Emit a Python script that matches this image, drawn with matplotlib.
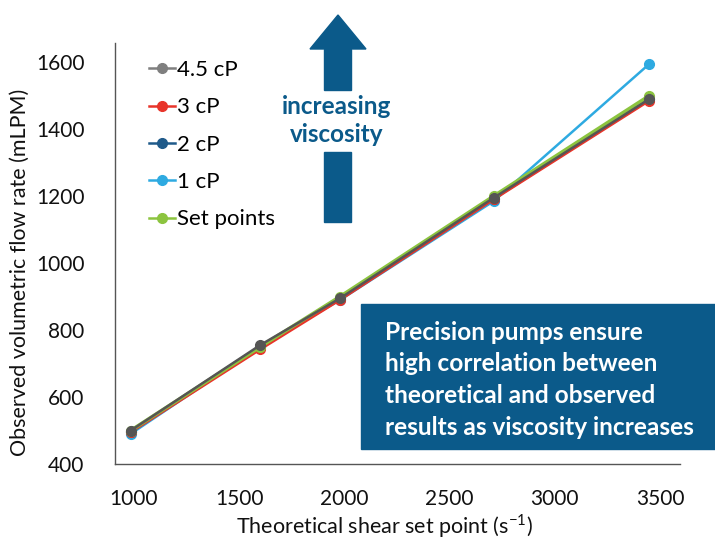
import matplotlib
matplotlib.use("Agg")
import matplotlib.pyplot as plt
from matplotlib.patches import Rectangle, Polygon
from matplotlib.lines import Line2D

plt.rcParams['font.family'] = ['Lato', 'DejaVu Sans']
plt.rcParams['mathtext.fontset'] = 'custom'
plt.rcParams['mathtext.rm'] = 'Lato'

# ---- data ----
shear = [985, 1600, 1980, 2710, 3450]
flow_45 = [500, 755, 895, 1195, 1490]
flow_3 = [495, 742, 890, 1190, 1485]
flow_2 = [495, 750, 892, 1192, 1490]
flow_1 = [490, 750, 890, 1185, 1595]
set_points = [500, 750, 900, 1200, 1500]

labels = ["4.5 cP", "3 cP", "2 cP", "1 cP", "Set points"]
xticks = [1000, 1500, 2000, 2500, 3000, 3500]
yticks = [400, 600, 800, 1000, 1200, 1400, 1600]

fig = plt.figure(figsize=(7.15, 5.44), dpi=100)
ax = fig.add_axes([115/715, 1-464/544, (680-115)/715, (464-43)/544])

c_gray = '#7f7f7f'
c_red = '#e8342a'
c_dblue = '#1f5a8a'
c_lblue = '#2eaae1'
c_green = '#8cc43f'

ax.plot(shear, flow_1, color=c_lblue, lw=1.8, marker='o', ms=7, zorder=2)
ax.plot(shear, flow_2, color=c_dblue, lw=1.8, marker='o', ms=7, zorder=3)
ax.plot(shear, flow_3, color=c_red, lw=1.8, marker='o', ms=7, zorder=3.5)
ax.plot(shear, set_points, color=c_green, lw=2.6, marker='o', ms=7, zorder=4)
ax.plot(shear, flow_45, color='#555555', lw=1.8, marker='o', ms=7, zorder=5)

ax.set_xlim(910, 3595)
ax.set_ylim(400, 1657)
ax.set_xticks(xticks)
ax.set_yticks(yticks)
ax.tick_params(length=0, labelsize=15, colors='#111111')
ax.tick_params(axis='y', pad=22)
ax.tick_params(axis='x', pad=18)
for s in ['top', 'right']:
    ax.spines[s].set_visible(False)
for s in ['left', 'bottom']:
    ax.spines[s].set_color('#555555')
    ax.spines[s].set_linewidth(1.0)

ax.set_xlabel("Theoretical shear set point (s$^{\\mathregular{-1}}$)", fontsize=15.5,
              color='#111111')
ax.xaxis.set_label_coords((385-115)/565, -(526-464)/421)
ax.xaxis.label.set_va('center')
ax.set_ylabel("Observed volumetric flow rate (mLPM)", fontsize=15.5, color='#111111')
ax.yaxis.set_label_coords(-(115-20)/565, (464-272)/421)
ax.yaxis.label.set_va('center')

handles = [Line2D([], [], color=c_gray, lw=1.8, marker='o', ms=7),
           Line2D([], [], color=c_red, lw=1.8, marker='o', ms=7),
           Line2D([], [], color=c_dblue, lw=1.8, marker='o', ms=7),
           Line2D([], [], color=c_lblue, lw=1.8, marker='o', ms=7),
           Line2D([], [], color=c_green, lw=1.8, marker='o', ms=7)]
fig.legend(handles, labels, loc='upper left', bbox_to_anchor=(149/715, 1-60/544),
           frameon=False, fontsize=16, handlelength=1.15, handletextpad=0.1,
           labelspacing=0.78, borderpad=0, borderaxespad=0)

# arrow
arrow_col = '#0b5a8a'
head = Polygon([[310/715, 1-49/544], [338/715, 1-15/544], [366/715, 1-49/544]],
               closed=True, transform=fig.transFigure, color=arrow_col)
fig.patches.append(head)
fig.patches.append(Rectangle((324/715, 1-90/544), 27/715, 41/544,
                             transform=fig.transFigure, color=arrow_col))
fig.patches.append(Rectangle((324/715, 1-222/544), 27/715, 70/544,
                             transform=fig.transFigure, color=arrow_col))
fig.text(337/715, 1-107/544, "increasing", ha='center', va='center', fontsize=17.5,
         fontweight='bold', color=arrow_col)
fig.text(337/715, 1-134/544, "viscosity", ha='center', va='center', fontsize=17.5,
         fontweight='bold', color=arrow_col)

# text box
fig.patches.append(Rectangle((361/715, 1-449/544), 354/715, 145/544,
                             transform=fig.transFigure, color=arrow_col, zorder=10))
box_lines = ["Precision pumps ensure",
             "high correlation between",
             "theoretical and observed",
             "results as viscosity increases"]
for i, t in enumerate(box_lines):
    fig.text(385/715, 1-(332 + 31.7*i)/544, t, ha='left', va='center', fontsize=17.6,
             fontweight='bold', color='white', zorder=11)

fig.savefig("out.png", dpi=100)
